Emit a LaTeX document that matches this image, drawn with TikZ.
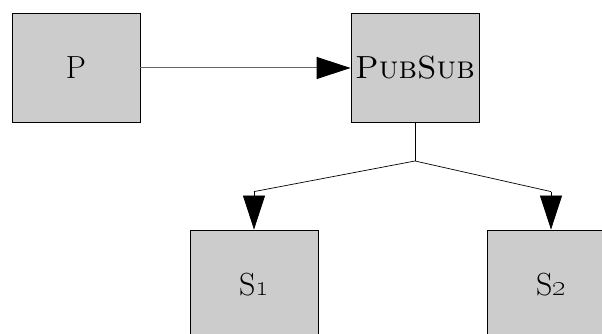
\documentclass[tikz,border=0pt]{standalone}
\usepackage{tikz}
\usetikzlibrary{calc,arrows.meta}

\begin{document}
\begin{tikzpicture}
      [x=1pt,y=1pt
      ,box/.style={rectangle,draw=black,fill=black!20,line width=.8,inner sep=0,
                   minimum width=128,minimum height=109,font=\fontsize{32}{36}\selectfont}
      ,lin/.style={color=black,line width=.7}
      ,tip/.style={-{Triangle[length=34,width=22,color=black]}}]
        \useasboundingbox (0,0) rectangle (602,334);
        \node[box] (p) at (76,266) {P};
        \node[box] (pubsub) at (415,266) {\textsc{PubSub}};
        \node[box] (s1) at (254,49.5) {S\oldstylenums{1}};
        \node[box] (s2) at (551,49.5) {S\oldstylenums{2}};
        \coordinate (split) at (415,173);
        \draw[lin,tip,color=black!60,line width=1] (p) -- (pubsub);
        \draw[lin] (pubsub) -- (split);
        \foreach \sub in {s1,s2}{
          \draw[lin] (split) -- ($ (\sub.north) + (0,38) $) coordinate (bend);
          \draw[lin,tip] (bend) -- (\sub.north);
        }
\end{tikzpicture}
\end{document}
